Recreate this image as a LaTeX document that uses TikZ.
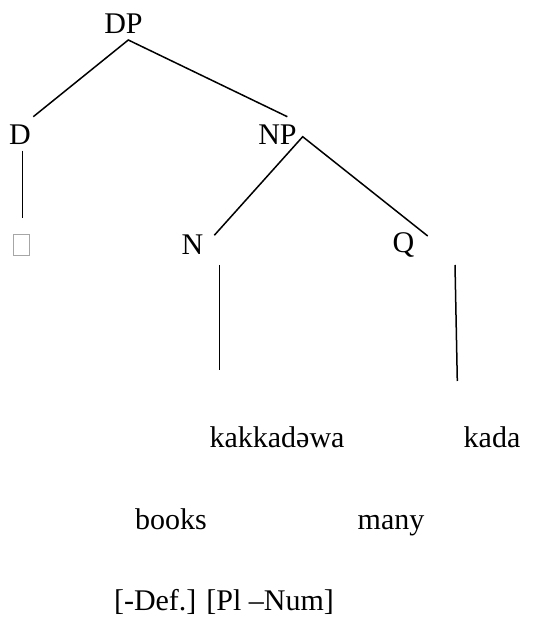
\documentclass[tikz,border=0pt]{standalone}
\usepackage{fontspec}
\setmainfont{Liberation Serif}
\begin{document}
\begin{tikzpicture}[x=0.5pt,y=-0.5pt,
  lbl/.style={anchor=base,inner sep=0pt,font=\fontsize{15}{18}\selectfont},
  branch/.style={line width=0.75pt},
  gap/.style={draw=gray!70,line width=0.5pt,minimum width=8pt,minimum height=10.5pt,inner sep=0pt}]
\useasboundingbox (0,0) rectangle (535,619);

% category labels
\node[lbl] (DP) at (123.5,34) {DP};
\node[lbl] (D)  at (20,145) {D};
\node[lbl] (NP) at (277.5,145) {NP};
\node[lbl] (N)  at (192.5,255) {N};
\node[lbl] (Q)  at (403.5,253) {Q};
\node[gap] (E)  at (21,245.5) {};

% lexical items, glosses and features
\node[lbl] (kakk)  at (277,447) {kakkadəwa};
\node[lbl] (kada)  at (492,447) {kada};
\node[lbl] (books) at (171,529) {books};
\node[lbl] (many)  at (391,529) {many};
\node[lbl] (feat)  at (224,610) {[-Def.] [Pl –Num]};

% branch end points
\coordinate (DPb) at (128.3,40);
\coordinate (Dt)  at (33.3,116.7);
\coordinate (NPt) at (287.3,116.7);
\coordinate (Db)  at (22.3,150.7);
\coordinate (Eb)  at (22.3,218.3);
\coordinate (NPb) at (302.7,136.7);
\coordinate (Nt)  at (214.3,235.3);
\coordinate (Qt)  at (427.7,236);
\coordinate (Nb)  at (219.3,265);
\coordinate (Ne)  at (219.3,370);
\coordinate (Qb)  at (455,265);
\coordinate (Qe)  at (457.3,381);

\draw[branch] (Dt) -- (DPb) -- (NPt);
\draw[branch] (Db) -- (Eb);
\draw[branch] (Nt) -- (NPb) -- (Qt);
\draw[branch] (Nb) -- (Ne);
\draw[branch] (Qb) -- (Qe);
\end{tikzpicture}
\end{document}
